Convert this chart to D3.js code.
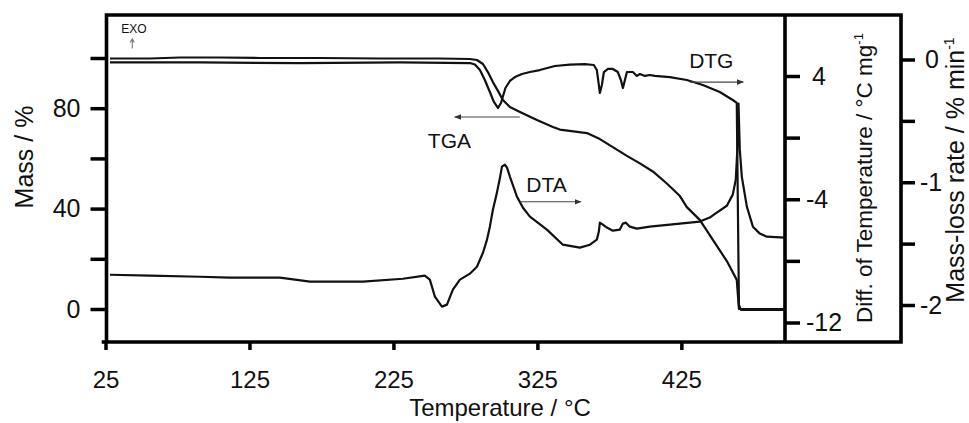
<!DOCTYPE html>
<html>
<head>
<meta charset="utf-8">
<script src="https://cdn.jsdelivr.net/npm/d3@7"></script>
<style>
  html, body { margin: 0; padding: 0; background: #fff; }
  svg { display: block; }
  text { font-family: "Liberation Sans", Arial, Helvetica, sans-serif; fill: #111; }
</style>
</head>
<body>
<svg id="chart" width="969" height="423"></svg>
<script>
// Axis ticks and which of them carry a label
const tempTicks = [25, 125, 225, 325, 425];
const massTicks = [0, 20, 40, 60, 80, 100];
const massLabels = [0, 40, 80];
const dtaTicks = [-12, -8, -4, 0, 4];
const dtaLabels = [-12, -4, 4];
const dtgTicks = [-2, -1.5, -1, -0.5, 0];
const dtgLabels = [-2, -1, 0];

// TGA: [temperature °C, mass %]
const tga = [
  [28.1, 99.8], [55.9, 99.8], [76.7, 100.2], [104.5, 100.2], [132.3, 100.0], [174.0, 100.0],
  [215.6, 99.8], [257.3, 99.8], [278.1, 99.6], [283.0, 99.2], [287.2, 97.6], [290.6, 94.4],
  [294.1, 90.4], [297.6, 86.9], [301.0, 83.3], [305.9, 80.5], [312.9, 78.5], [324.7, 75.3],
  [335.8, 72.5], [340.6, 71.5], [359.4, 70.1], [368.4, 67.7], [377.4, 64.5], [387.2, 61.0],
  [396.2, 58.0], [405.2, 54.8], [414.9, 50.0], [424.0, 45.0], [428.8, 40.6], [437.8, 35.5],
  [446.9, 27.5], [456.6, 19.1], [463.5, 11.6], [465.0, 0], [479.5, 0], [496.9, 0]
];

// DTA: [temperature °C, temperature difference °C mg-1]
const dta = [
  [28.1, -8.90], [55.9, -8.96], [90.6, -9.03], [111.5, -9.09], [146.2, -9.09], [167.0, -9.35],
  [180.9, -9.35], [203.8, -9.35], [231.6, -9.16], [246.8, -8.96], [250.3, -9.22], [253.8, -10.32],
  [258.7, -10.97], [262.2, -10.84], [266.3, -9.87], [271.2, -9.22], [278.1, -8.83], [283.0, -8.38],
  [287.2, -7.47], [290.0, -6.62], [292.0, -5.78], [294.1, -4.68], [296.9, -3.57], [299.0, -2.60],
  [300.4, -1.88], [302.4, -1.75], [303.9, -1.95], [305.9, -2.53], [310.8, -3.83], [315.0, -4.55],
  [319.8, -5.13], [331.6, -5.97], [342.7, -6.95], [354.5, -7.14], [361.5, -6.95], [366.3, -6.62],
  [367.7, -6.10], [368.4, -5.52], [370.5, -5.65], [373.3, -5.84], [377.4, -6.04], [382.3, -5.97],
  [384.4, -5.58], [386.5, -5.52], [389.2, -5.78], [394.1, -5.91], [403.1, -5.78], [417.0, -5.65],
  [430.9, -5.52], [437.8, -5.45], [444.7, -5.19], [449.6, -4.87], [456.6, -4.42], [460.7, -3.70],
  [462.8, -2.73], [463.9, -0.78], [464.7, 2.21], [465.6, -0.78], [467.0, -2.53], [470.5, -4.48],
  [474.7, -5.78], [479.5, -6.23], [484.4, -6.43], [496.9, -6.49]
];

// DTG: [temperature °C, mass-loss rate % min-1]
const dtg = [
  [28.1, -0.024], [90.6, -0.024], [160.1, -0.029], [229.5, -0.024], [278.1, -0.029], [281.6, -0.041],
  [285.1, -0.086], [288.5, -0.167], [292.0, -0.265], [294.8, -0.346], [297.6, -0.395], [299.7, -0.354],
  [302.8, -0.232], [305.9, -0.175], [309.4, -0.143], [314.3, -0.118], [319.8, -0.102], [326.7, -0.086],
  [337.1, -0.053], [347.6, -0.041], [358.0, -0.037], [364.2, -0.045], [366.3, -0.086], [367.7, -0.208],
  [368.4, -0.273], [369.8, -0.208], [371.2, -0.102], [374.0, -0.077], [377.4, -0.077], [380.9, -0.102],
  [383.0, -0.167], [384.4, -0.232], [385.8, -0.167], [387.2, -0.102], [391.3, -0.102], [394.1, -0.134],
  [396.2, -0.118], [399.7, -0.134], [403.1, -0.126], [406.6, -0.134], [417.0, -0.143], [428.8, -0.167],
  [439.9, -0.208], [451.7, -0.265], [460.7, -0.330], [463.5, -0.354], [465.0, -2.00], [466.4, -2.04],
  [479.5, -2.04], [496.9, -2.04]
];

// Curve labels with their direction arrows: [temperature, mass %]
const curveLabels = [
  { text: "TGA", at: [263.9, 64.1], from: [312.8, 76.5], to: [267.6, 76.5] },
  { text: "DTA", at: [331.3, 46.6], from: [312.8, 42.7], to: [355.2, 42.7] },
  { text: "DTG", at: [445.8, 96.0], from: [430.9, 90.4], to: [468.0, 90.4] }
];

const svg = d3.select("#chart");

const frame = { left: 106.5, right: 785, box: 901, top: 15, bottom: 342 };

const x = d3.scaleLinear().domain([25, 497]).range([105.5, frame.right]);
const yMass = d3.scaleLinear().domain([0, 100]).range([309, 58]);
const yDTA = d3.scaleLinear().domain([-12, 4]).range([322.5, 76]);
const yDTG = d3.scaleLinear().domain([-2, 0]).range([305, 59.5]);

const FONT = '"Liberation Sans", Arial, Helvetica, sans-serif';

function styleAxis(g, size) {
  g.select(".domain").remove();
  g.selectAll(".tick line").attr("stroke", "#000").attr("stroke-width", 3.5);
  g.selectAll(".tick text").attr("fill", "#111").attr("font-size", size).attr("font-family", FONT);
}

// Axes
svg.append("g")
  .attr("transform", `translate(0,${frame.bottom})`)
  .call(d3.axisBottom(x).tickValues(tempTicks).tickSize(8).tickPadding(21).tickFormat(d => String(d)))
  .call(g => styleAxis(g, 24));

svg.append("g")
  .attr("transform", `translate(${frame.left},0)`)
  .call(d3.axisLeft(yMass).tickValues(massTicks).tickSize(16).tickPadding(10)
    .tickFormat(d => massLabels.includes(d) ? String(d) : ""))
  .call(g => styleAxis(g, 25));

svg.append("g")
  .attr("transform", `translate(${frame.right},0)`)
  .call(d3.axisRight(yDTA).tickValues(dtaTicks).tickSize(15).tickPadding(6)
    .tickFormat(d => dtaLabels.includes(d) ? String(d) : ""))
  .call(g => styleAxis(g, 25))
  .call(g => g.selectAll(".tick text").filter(d => d >= 0).attr("dx", 6));

svg.append("g")
  .attr("transform", `translate(${frame.box},0)`)
  .call(d3.axisRight(yDTG).tickValues(dtgTicks).tickSize(14).tickPadding(5)
    .tickFormat(d => dtgLabels.includes(d) ? String(d) : ""))
  .call(g => styleAxis(g, 25))
  .call(g => g.selectAll(".tick text").filter(d => d >= 0).attr("dx", 5));

// Frames: plot area and the side box holding the temperature-difference axis
svg.append("path")
  .attr("d", `M${frame.left},${frame.top}H${frame.box}V${frame.bottom}H103.5` +
             `M${frame.left},${frame.top}V${frame.bottom}M${frame.right},${frame.top}V${frame.bottom}`)
  .attr("fill", "none").attr("stroke", "#000").attr("stroke-width", 3.6)
  .attr("stroke-linecap", "square");

// Curves
const lineFor = ys => d3.line().x(d => x(d[0])).y(d => ys(d[1]));
const curves = [[tga, yMass], [dtg, yDTG], [dta, yDTA]];
curves.forEach(([data, ys]) => {
  svg.append("path")
    .datum(data)
    .attr("d", lineFor(ys))
    .attr("fill", "none")
    .attr("stroke", "#111")
    .attr("stroke-width", 2.2)
    .attr("stroke-linejoin", "round");
});

// Arrow marker
svg.append("defs").append("marker")
  .attr("id", "head").attr("viewBox", "0 0 10 10")
  .attr("refX", 9).attr("refY", 5)
  .attr("markerWidth", 7).attr("markerHeight", 7)
  .attr("markerUnits", "userSpaceOnUse")
  .attr("orient", "auto")
  .append("path").attr("d", "M0,1L10,5L0,9Z").attr("fill", "#333");

curveLabels.forEach(c => {
  svg.append("line")
    .attr("x1", x(c.from[0])).attr("y1", yMass(c.from[1]))
    .attr("x2", x(c.to[0])).attr("y2", yMass(c.to[1]))
    .attr("stroke", "#444").attr("stroke-width", 1.1)
    .attr("marker-end", "url(#head)");
  svg.append("text")
    .attr("x", x(c.at[0])).attr("y", yMass(c.at[1]))
    .attr("text-anchor", "middle")
    .attr("font-size", 21)
    .text(c.text);
});

// Exothermic direction marker
svg.append("text")
  .attr("x", x(44.8)).attr("y", yMass(110))
  .attr("text-anchor", "middle").attr("font-size", 12).attr("fill", "#334")
  .text("EXO");
svg.append("path")
  .attr("d", `M${x(43.6)},${yMass(103.8)}V${yMass(107.3)}` +
             `M${x(42.2)},${yMass(106.2)}L${x(43.6)},${yMass(107.6)}L${x(45.0)},${yMass(106.2)}`)
  .attr("fill", "none").attr("stroke", "#777").attr("stroke-width", 1.1);

// Axis titles
svg.append("text")
  .attr("x", 500).attr("y", 416)
  .attr("text-anchor", "middle").attr("font-size", 24)
  .text("Temperature / °C");

svg.append("text")
  .attr("transform", "translate(33,157) rotate(-90)")
  .attr("text-anchor", "middle").attr("font-size", 25)
  .text("Mass / %");

const dtaTitle = svg.append("text")
  .attr("transform", "translate(872,178) rotate(-90)")
  .attr("text-anchor", "middle").attr("font-size", 22.5);
dtaTitle.append("tspan").text("Diff. of Temperature / °C mg");
dtaTitle.append("tspan").attr("dy", -9).attr("font-size", 13).text("-1");

const dtgTitle = svg.append("text")
  .attr("transform", "translate(964,170) rotate(-90)")
  .attr("text-anchor", "middle").attr("font-size", 25);
dtgTitle.append("tspan").text("Mass-loss rate / % min");
dtgTitle.append("tspan").attr("dy", -10).attr("font-size", 14).text("-1");
</script>
</body>
</html>
